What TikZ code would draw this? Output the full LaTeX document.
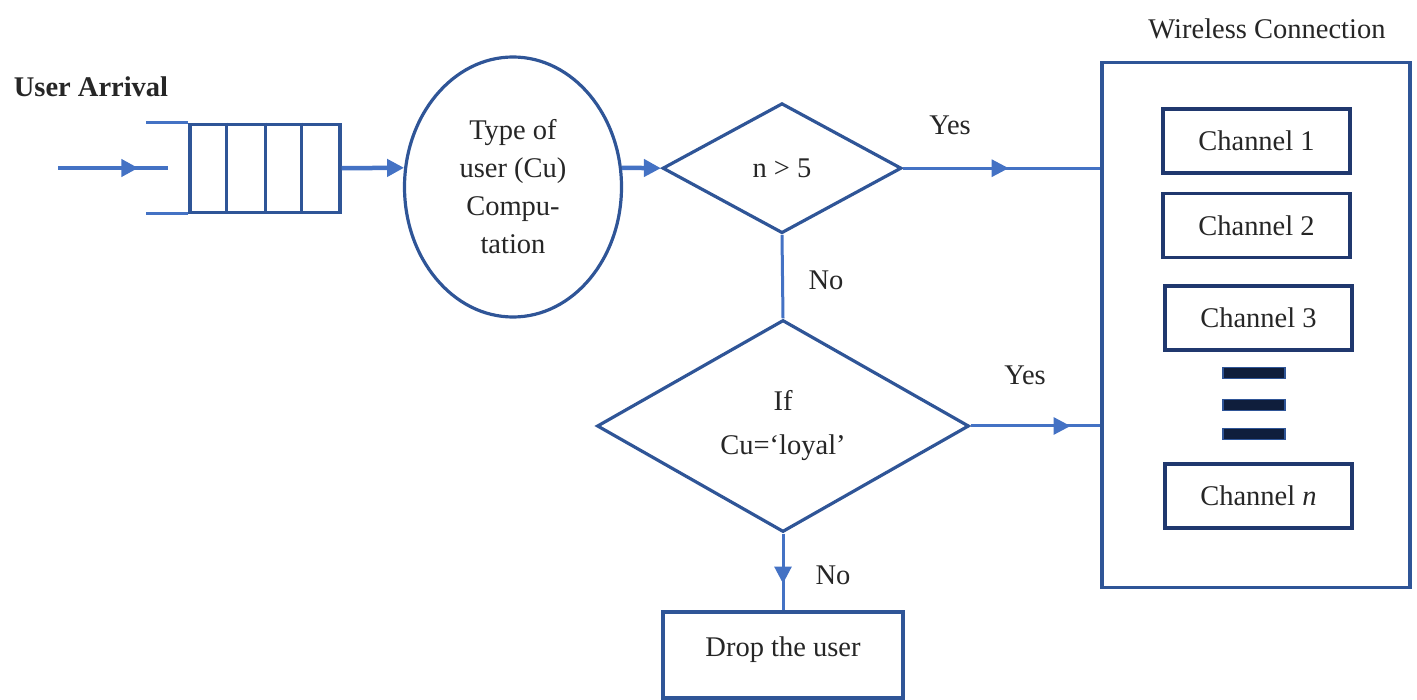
\documentclass[tikz,border=0pt]{standalone}
\usepackage{fontspec}
\setmainfont{Liberation Serif}
\usetikzlibrary{shapes.geometric,arrows.meta,decorations.markings}
\definecolor{conn}{RGB}{68,114,196}
\definecolor{shp}{RGB}{47,85,151}
\definecolor{navy}{RGB}{32,56,110}
\definecolor{barfill}{RGB}{15,30,60}
\definecolor{txt}{RGB}{38,38,38}
\begin{document}
\begin{tikzpicture}[x=1pt,y=-1pt,
  every node/.style={font=\fontsize{28.5}{38}\selectfont, text=txt},
  shapeline/.style={draw=shp, line width=3.2pt},
  chanbox/.style={draw=navy, line width=3.2pt, minimum width=187pt, minimum height=64pt, inner sep=0pt},
  barbox/.style={fill=barfill, draw=shp, line width=1.5pt, minimum width=62pt, minimum height=11pt, inner sep=0pt},
  connline/.style={draw=conn, line width=3pt},
  thickconn/.style={draw=conn, line width=4.5pt},
  endtip/.style={-{Triangle[length=17pt,width=17pt]}},
  midtip/.style={postaction=decorate, decoration={markings, mark=at position #1 with {\arrow{Triangle[length=17pt,width=17pt]}}}},
  lbl/.style={inner sep=0pt}
]
\useasboundingbox (0,0) rectangle (1417,700);

% title
\node[lbl, font=\fontsize{28.5}{38}\selectfont\bfseries] (arrival) at (91,87) {User Arrival};

% queue
\node[shapeline, minimum width=150pt, minimum height=88pt, inner sep=0pt] (queue) at (265,168.2) {};
\foreach \dx in {38,77,113}
  \draw[shapeline] ([xshift=\dx pt]queue.north west) -- ([xshift=\dx pt]queue.south west);
\draw[connline] (queue.north west) -- ++(-42,0);
\draw[connline] (queue.south west) -- ++(-42,0);
\coordinate (inS) at (58,168);
\coordinate (inE) at (168,168);

% ellipse
\node[ellipse, shapeline, minimum width=217pt, minimum height=260pt, inner sep=0pt, align=center]
  (ell) at (513,187) {Type of\\user (Cu)\\Compu-\\tation};

% decisions
\node[diamond, shapeline, minimum width=239pt, minimum height=130pt, inner sep=0pt] (d1) at (782,168.2) {n > 5};
\node[diamond, shapeline, minimum width=372pt, minimum height=212pt, inner sep=0pt, align=center]
  (d2) at (783,426) {If\\[6pt]Cu=‘loyal’};

% drop
\node[shapeline, minimum width=240pt, minimum height=86pt, inner sep=0pt, text height=20pt, text depth=18pt]
  (drop) at (783,655) {Drop the user};

% wireless connection
\node[shapeline, minimum width=308pt, minimum height=525pt, inner sep=0pt] (wl) at (1256,325) {};
\node[lbl] (wlt) at (1267,29) {Wireless Connection};
\node[chanbox] (ch1) at (1256.5,141) {Channel 1};
\node[chanbox] (ch2) at (1256.5,225.5) {Channel 2};
\node[chanbox] (ch3) at (1258.5,318) {Channel 3};
\node[barbox] (bar1) at (1254,373) {};
\node[barbox] (bar2) at (1254,405) {};
\node[barbox] (bar3) at (1254,434) {};
\node[chanbox] (chn) at (1258.5,496) {Channel \textit{n}};

% labels
\node[lbl] (yes1) at (950,125) {Yes};
\node[lbl] (no1) at (826,280) {No};
\node[lbl] (yes2) at (1025,375) {Yes};
\node[lbl] (no2) at (833,575) {No};

% connectors
\draw[thickconn, midtip=0.73] (inS) -- (inE);
\draw[thickconn, endtip] (queue.east) -- (ell.170);
\draw[thickconn, endtip] (ell.10) -- (d1.west);
\draw[connline, midtip=0.535] (d1.east) -- (d1.east -| wl.west);
\draw[connline] (d1.south) -- (d2.north);
\draw[connline, midtip=0.77] (d2.east) -- (d2.east -| wl.west);
\draw[connline, midtip=0.65] (d2.south) -- (drop.north);
\end{tikzpicture}
\end{document}
